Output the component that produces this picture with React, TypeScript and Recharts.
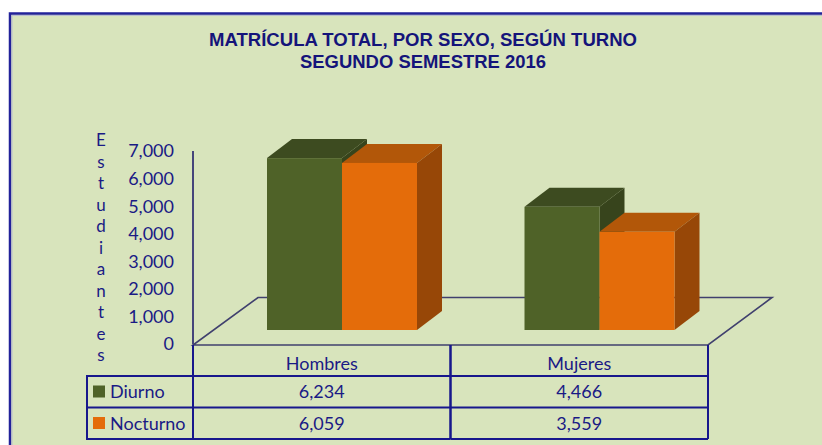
import React from "react"
import { Bar, BarChart, XAxis, YAxis } from "recharts"

const categories = ["Hombres", "Mujeres"]
const diurno = [6234, 4466]
const nocturno = [6059, 3559]
const yTicks = [0, 1000, 2000, 3000, 4000, 5000, 6000, 7000]
const axisTitle = "Estudiantes"
const titleLines = ["MATRÍCULA TOTAL, POR SEXO, SEGÚN TURNO", "SEGUNDO SEMESTRE 2016"]

const series = [
   { key: "diurno", name: "Diurno", values: diurno, front: "#4F6228", top: "#3D4B20", side: "#37441C" },
   { key: "nocturno", name: "Nocturno", values: nocturno, front: "#E46C0A", top: "#B25709", side: "#974707" },
]

const data = categories.map((c, i) => ({
   name: c,
   diurno: diurno[i],
   nocturno: nocturno[i],
}))

const W = 822
const H = 445
const PLOT_LEFT = 193
const PLOT_RIGHT = 708
const PLOT_TOP = 151
const PLOT_BOTTOM = 344
const BAND = (PLOT_RIGHT - PLOT_LEFT) / categories.length

// 3D look
const OX = 20
const OY = -14
const DX = 25
const DY = -19

const NAVY = "#1A1A85"
const LINE = "#17178C"
const FLOOR = "#40406E"
const FONT = "Lato, 'Noto Sans', sans-serif"

const ROW_TOP = 345
const ROW1 = 376
const ROW2 = 407.5
const ROW3 = 439

const fmt = (v: number) => v.toLocaleString("en-US")

const makeShape = (s: (typeof series)[number]) => (props: any) => {
   const { x, y, width, height } = props
   const fx = x + OX
   const fy = y + OY
   return (
      <g>
         <polygon
            points={`${fx},${fy} ${fx + DX},${fy + DY} ${fx + width + DX},${fy + DY} ${fx + width},${fy}`}
            fill={s.top}
         />
         <polygon
            points={`${fx + width},${fy} ${fx + width + DX},${fy + DY} ${fx + width + DX},${fy + height + DY} ${fx + width},${fy + height}`}
            fill={s.side}
         />
         <rect x={fx} y={fy} width={width} height={height} fill={s.front} />
      </g>
   )
}

const TableTick = (props: any) => {
   const { x, payload } = props
   const i = payload.index
   const l = x - BAND / 2
   const r = x + BAND / 2
   return (
      <g fontFamily={FONT} fontSize={18} fill={NAVY} textAnchor="middle">
         <text x={x} y={370}>{payload.value}</text>
         <text x={x} y={398}>{fmt(diurno[i])}</text>
         <text x={x} y={430}>{fmt(nocturno[i])}</text>
         <line x1={l} y1={ROW_TOP} x2={l} y2={ROW3} stroke={LINE} strokeWidth={2} />
         <line x1={r} y1={ROW_TOP} x2={r} y2={ROW3} stroke={LINE} strokeWidth={2} />
         <line x1={l} y1={ROW1} x2={r} y2={ROW1} stroke={LINE} strokeWidth={2} />
         <line x1={l} y1={ROW2} x2={r} y2={ROW2} stroke={LINE} strokeWidth={2} />
         <line x1={l} y1={ROW3} x2={r} y2={ROW3} stroke={LINE} strokeWidth={2} />
      </g>
   )
}

export default function App() {
   return (
      <div style={{ position: "absolute", left: 0, top: 0, width: W, height: H, overflow: "hidden", background: "#fff" }}>
         <svg width={W} height={H} style={{ position: "absolute", left: 0, top: 0 }}>
            <rect x={10} y={13.5} width={830} height={460} fill="#D8E4BC" stroke="#22229A" strokeWidth={2.5} />
            <rect x={12} y={15.5} width={830} height={460} fill="none" stroke="#B9BDD0" strokeWidth={1} />
            <g fontFamily="'Liberation Sans', Arial, sans-serif" fontWeight="bold" fontSize={18} fill="#14147A" textAnchor="middle">
               <text x={423} y={46} textLength={428} lengthAdjust="spacingAndGlyphs">{titleLines[0]}</text>
               <text x={423} y={68} textLength={246} lengthAdjust="spacingAndGlyphs">{titleLines[1]}</text>
            </g>
            <g fontFamily={FONT} fontSize={17} fill={NAVY} textAnchor="middle">
               {axisTitle.split("").map((ch, i) => (
                  <text key={i} x={101} y={146 + i * 21.5}>{ch}</text>
               ))}
            </g>
            <polygon
               points={`${PLOT_LEFT},${ROW_TOP} ${PLOT_RIGHT},${ROW_TOP} 772,297.5 258,297.5`}
               fill="none"
               stroke={FLOOR}
               strokeWidth={1.6}
            />
            <g fontFamily={FONT} fontSize={18} fill={NAVY}>
               {series.map((s, i) => {
                  const yTop = i === 0 ? ROW1 : ROW2
                  return (
                     <g key={s.key}>
                        <rect x={93} y={yTop + 9.5} width={12} height={12} fill={s.front} />
                        <text x={110} y={yTop + 22}>{s.name}</text>
                     </g>
                  )
               })}
            </g>
            <line x1={87} y1={ROW1} x2={87} y2={ROW3} stroke={LINE} strokeWidth={2} />
            <line x1={86} y1={ROW1} x2={PLOT_LEFT} y2={ROW1} stroke={LINE} strokeWidth={2} />
            <line x1={86} y1={ROW2} x2={PLOT_LEFT} y2={ROW2} stroke={LINE} strokeWidth={2} />
            <line x1={86} y1={ROW3} x2={PLOT_LEFT} y2={ROW3} stroke={LINE} strokeWidth={2} />
         </svg>
         <div style={{ position: "absolute", left: 0, top: 0 }}>
            <BarChart
               width={W}
               height={H}
               data={data}
               margin={{ top: PLOT_TOP, right: W - PLOT_RIGHT, bottom: 71, left: PLOT_LEFT - 100 }}
               barCategoryGap={54}
               barGap={0}
            >
               <XAxis
                  dataKey="name"
                  axisLine={false}
                  tickLine={false}
                  height={30}
                  interval={0}
                  tick={<TableTick />}
               />
               <YAxis
                  width={100}
                  domain={[0, 7000]}
                  ticks={yTicks}
                  tickFormatter={fmt}
                  axisLine={{ stroke: "#45457A", strokeWidth: 2 }}
                  tickLine={false}
                  tickMargin={13}
                  tick={{ fill: NAVY, fontSize: 18, fontFamily: FONT }}
               />
               {series.map((s) => (
                  <Bar
                     key={s.key}
                     dataKey={s.key}
                     name={s.name}
                     fill={s.front}
                     shape={makeShape(s)}
                     isAnimationActive={false}
                  />
               ))}
            </BarChart>
         </div>
      </div>
   )
}
